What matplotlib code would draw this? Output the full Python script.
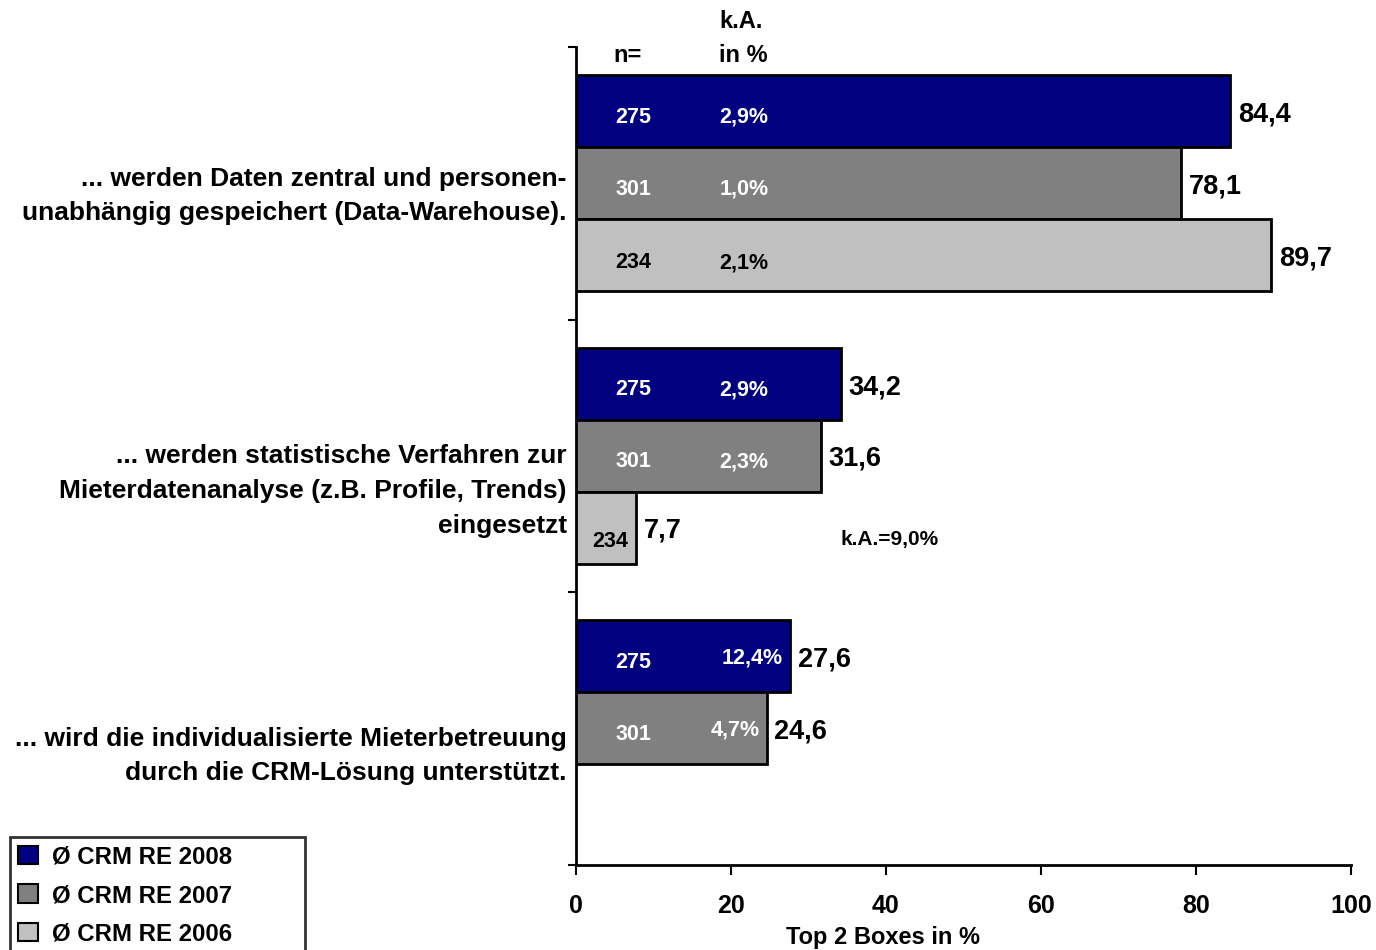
import numpy as np
import matplotlib
matplotlib.use("Agg")
import matplotlib.pyplot as plt
from matplotlib.patches import Patch

plt.rcParams['font.family'] = ['Liberation Sans', 'DejaVu Sans']
plt.rcParams['font.weight'] = 'bold'

categories = [
    "... werden Daten zentral und personen-\nunabhängig gespeichert (Data-Warehouse).",
    "... werden statistische Verfahren zur\nMieterdatenanalyse (z.B. Profile, Trends)\neingesetzt",
    "... wird die individualisierte Mieterbetreuung\ndurch die CRM-Lösung unterstützt.",
]
series_names = ["Ø CRM RE 2008", "Ø CRM RE 2007", "Ø CRM RE 2006"]
vals_2008 = [84.4, 34.2, 27.6]
vals_2007 = [78.1, 31.6, 24.6]
vals_2006 = [89.7, 7.7, np.nan]
n_2008 = ["275", "275", "275"]
n_2007 = ["301", "301", "301"]
n_2006 = ["234", "234", ""]
ka_2008 = ["2,9%", "2,9%", "12,4%"]
ka_2007 = ["1,0%", "2,3%", "4,7%"]
ka_2006 = ["2,1%", "", ""]
ka_note = "k.A.=9,0%"
xticks = [0, 20, 40, 60, 80, 100]
xlabel = "Top 2 Boxes in %"

colors = ["#000080", "#808080", "#C0C0C0"]
inner_colors = ["white", "white", "black"]

fig = plt.figure(figsize=(13.76, 9.5), dpi=100)
ax = fig.add_axes([576 / 1376, 1 - 865 / 950, (1351 - 576) / 1376, (865 - 47) / 950])

series = [vals_2008, vals_2007, vals_2006]
ns = [n_2008, n_2007, n_2006]
kas = [ka_2008, ka_2007, ka_2006]

bar_h = 0.264
offset0 = 0.103
for j, (vals, col) in enumerate(zip(series, colors)):
    centers = np.arange(len(categories)) + offset0 + bar_h / 2 + j * bar_h
    ax.barh(centers, vals, height=bar_h, color=col, edgecolor="black",
            linewidth=2, label=series_names[j], zorder=3)
    for i, v in enumerate(vals):
        if np.isnan(v):
            continue
        y = centers[i]
        ax.text(v + 1.0, y + 0.012, f"{v:.1f}".replace(".", ","), ha="left",
                va="center", fontsize=19.5, fontweight="bold", color="black")
        dy = 0.028 if j == 2 else 0.022
        if v < 15:
            ax.text(v / 2 + 0.6, y + 0.05, ns[j][i], ha="center", va="center",
                    fontsize=15.5, fontweight="bold", color=inner_colors[j])
        else:
            ax.text(7.4, y + dy, ns[j][i], ha="center", va="center",
                    fontsize=15.5, fontweight="bold", color=inner_colors[j])
        if kas[j][i]:
            if i == 2:
                ax.text(v - 0.9, y + 0.005, kas[j][i], ha="right", va="center",
                        fontsize=15.5, fontweight="bold", color=inner_colors[j])
            else:
                ax.text(18.5, y + dy, kas[j][i], ha="left", va="center",
                        fontsize=15.5, fontweight="bold", color=inner_colors[j])

# note for the missing-answer share of the short 2006 bar
ax.text(34.1, 1 + offset0 + 2.5 * bar_h + 0.045, ka_note, ha="left", va="center",
        fontsize=15, fontweight="bold")

# column headers above the bars
ax.text(6.6, 0.03, "n=", ha="center", va="center", fontsize=17,
        fontweight="bold", clip_on=False)
ax.text(18.5, 0.03, "in %", ha="left", va="center", fontsize=17,
        fontweight="bold", clip_on=False)
ax.text(18.5, -0.095, "k.A.", ha="left", va="center", fontsize=17,
        fontweight="bold", clip_on=False)

# category labels
label_y = [0.546, 1.628, 2.600]
for lab, yy in zip(categories, label_y):
    ax.text(-1.2, yy, lab, ha="right", va="center", fontsize=19,
            fontweight="bold", linespacing=1.56, clip_on=False)

ax.set_xlim(0, 100)
ax.set_ylim(3, 0)
ax.set_xticks(xticks)
ax.set_xticklabels([str(t) for t in xticks], fontsize=18, fontweight="bold")
ax.set_yticks([0, 1, 2, 3])
ax.set_yticklabels([])
ax.tick_params(axis="x", direction="out", length=7, width=1.5, pad=14)
ax.tick_params(axis="y", direction="out", length=6, width=1.5)
ax.set_xlabel(xlabel, fontsize=17, fontweight="bold")
ax.xaxis.set_label_coords(0.396, -0.074)
for s in ["top", "right"]:
    ax.spines[s].set_visible(False)
for s in ["left", "bottom"]:
    ax.spines[s].set_linewidth(2)

handles = [Patch(facecolor=c, edgecolor="black", linewidth=1.5) for c in colors]
leg = fig.legend(handles, series_names, loc="upper left",
                 bbox_to_anchor=(10 / 1376, 0, 295 / 1376, 1 - 837 / 950),
                 mode="expand", frameon=True,
                 fancybox=False, edgecolor="black", fontsize=17.3,
                 handlelength=0.8, handleheight=0.8, handletextpad=0.6,
                 labelspacing=0.65, borderpad=0.35, borderaxespad=0)
leg.get_frame().set_linewidth(2)
for t in leg.get_texts():
    t.set_fontweight("bold")

fig.savefig("out.png", dpi=100, facecolor="white")
